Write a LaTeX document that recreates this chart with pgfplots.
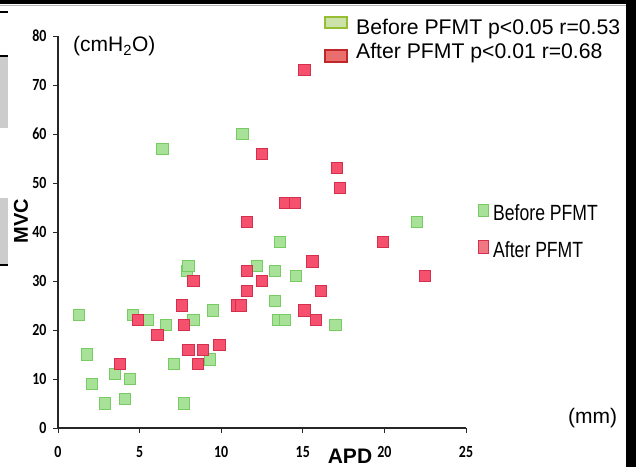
\documentclass[border=0pt]{standalone}
\usepackage{fontspec}
\setmainfont{Liberation Sans}
\newfontfamily\carlito{Carlito}
\usepackage{graphicx}
\usepackage{pgfplots}
\pgfplotsset{compat=1.18}

\definecolor{befFill}{RGB}{168,226,152}
\definecolor{befDraw}{RGB}{118,204,98}
\definecolor{aftFill}{RGB}{245,80,110}
\definecolor{aftDraw}{RGB}{212,48,78}

\pgfplotstableread{
x y
1.3 23
1.8 15
2.1 9
2.9 5
3.5 11
4.1 6
4.4 10
4.6 23
5.5 22
6.4 57
6.6 21
7.1 13
7.7 5
7.9 32
8.0 33
8.3 22
9.3 14
9.5 24
11.3 60
12.2 33
13.3 32
13.3 26
13.6 38
13.5 22
13.9 22
14.6 31
17.0 21
22.0 42
}\before

\pgfplotstableread{
x y
3.8 13
4.9 22
6.1 19
7.6 25
7.7 21
8.0 16
8.3 30
8.6 13
8.9 16
9.9 17
11.0 25
11.2 25
11.6 32
11.6 28
11.6 42
12.5 30
12.5 56
13.9 46
14.5 46
15.1 73
15.1 24
15.6 34
15.8 22
16.1 28
17.1 53
17.3 49
19.9 38
22.5 31
}\after

\begin{document}
\begin{tikzpicture}[x=1pt,y=1pt]
  \path[use as bounding box] (0,0) rectangle (636,467);
  \clip (0,0) rectangle (636,467);
  % frame remnants
  \fill[black] (0,463) rectangle (636,467);
  \draw[gray!60, line width=0.8pt] (0,462) -- (626,462);
  \fill[black] (626,0) rectangle (636,467);
  \draw[black, line width=1.5pt] (0,455) -- (8,455);
  \fill[gray!40] (0,339) rectangle (8,411);
  \draw[black, line width=1.5pt] (0,411) -- (8,411);
  \fill[gray!40] (0,202) rectangle (8,269);
  \draw[black, line width=1.5pt] (0,202) -- (8,202);

  \begin{axis}[
    at={(58pt,39pt)}, anchor=south west,
    scale only axis, width=408pt, height=392pt,
    xmin=0, xmax=25, ymin=0, ymax=80,
    axis x line=bottom, axis y line=left,
    axis line style={-, line width=1.2pt, black!85},
    xtick={0,5,...,25}, ytick={0,10,...,80},
    tick align=outside, major tick length=5pt,
    tick style={line width=1pt, black!85},
    tick label style={font=\carlito\bfseries\fontsize{17}{17}\selectfont},
    xticklabel={\scalebox{0.82}[1]{\pgfmathprintnumber[assume math mode=true]{\tick}}},
    yticklabel={\scalebox{0.82}[1]{\pgfmathprintnumber[assume math mode=true]{\tick}}},
    xticklabel style={yshift=-10pt},
    yticklabel style={xshift=-3pt},
    clip=false,
  ]
    \addplot[only marks, mark=square*, mark size=5.6pt,
      mark options={fill=befFill, draw=befDraw, line width=1pt}]
      table[x=x, y=y] {\before};
    \addplot[only marks, mark=square*, mark size=5.6pt,
      mark options={fill=aftFill, draw=aftDraw, line width=1pt}]
      table[x=x, y=y] {\after};
  \end{axis}

  % unit labels and axis titles
  \node[anchor=base west, inner sep=0pt, font=\fontsize{21}{21}\selectfont]
    at (73,415) {(cmH\textsubscript{2}O)};
  \node[anchor=base west, inner sep=0pt, font=\fontsize{21}{21}\selectfont]
    at (568,44) {(mm)};
  \node[rotate=90, inner sep=0pt, font=\bfseries\fontsize{20}{20}\selectfont]
    at (21,246) {MVC};
  \node[anchor=base, inner sep=0pt, font=\bfseries\fontsize{21}{21}\selectfont]
    at (350,3.5) {APD};

  % top legend
  \draw[fill={rgb,255:red,205;green,225;blue,170}, draw={rgb,255:red,150;green,190;blue,50}, line width=1.5pt]
    (325,439) rectangle (347,450);
  \node[anchor=base west, inner sep=0pt, font=\fontsize{21.2}{21.2}\selectfont]
    at (356,432) {Before PFMT p<0.05 r=0.53};
  \draw[fill={rgb,255:red,235;green,110;blue,110}, draw={rgb,255:red,190;green,40;blue,40}, line width=1.5pt]
    (325,405) rectangle (347,417);
  \node[anchor=base west, inner sep=0pt, font=\fontsize{21.2}{21.2}\selectfont]
    at (356,408) {After PFMT p<0.01 r=0.68};

  % right legend
  \draw[fill=befFill, draw=befDraw, line width=0.8pt] (478,251) rectangle (488,263);
  \node[anchor=base west, inner sep=0pt, font=\fontsize{22}{22}\selectfont]
    at (493,247) {\scalebox{0.8}[1]{Before PFMT}};
  \draw[fill={rgb,255:red,240;green,120;blue,130}, draw=aftDraw, line width=0.8pt] (478,214) rectangle (488,227);
  \node[anchor=base west, inner sep=0pt, font=\fontsize{22}{22}\selectfont]
    at (493,210) {\scalebox{0.8}[1]{After PFMT}};
\end{tikzpicture}
\end{document}
